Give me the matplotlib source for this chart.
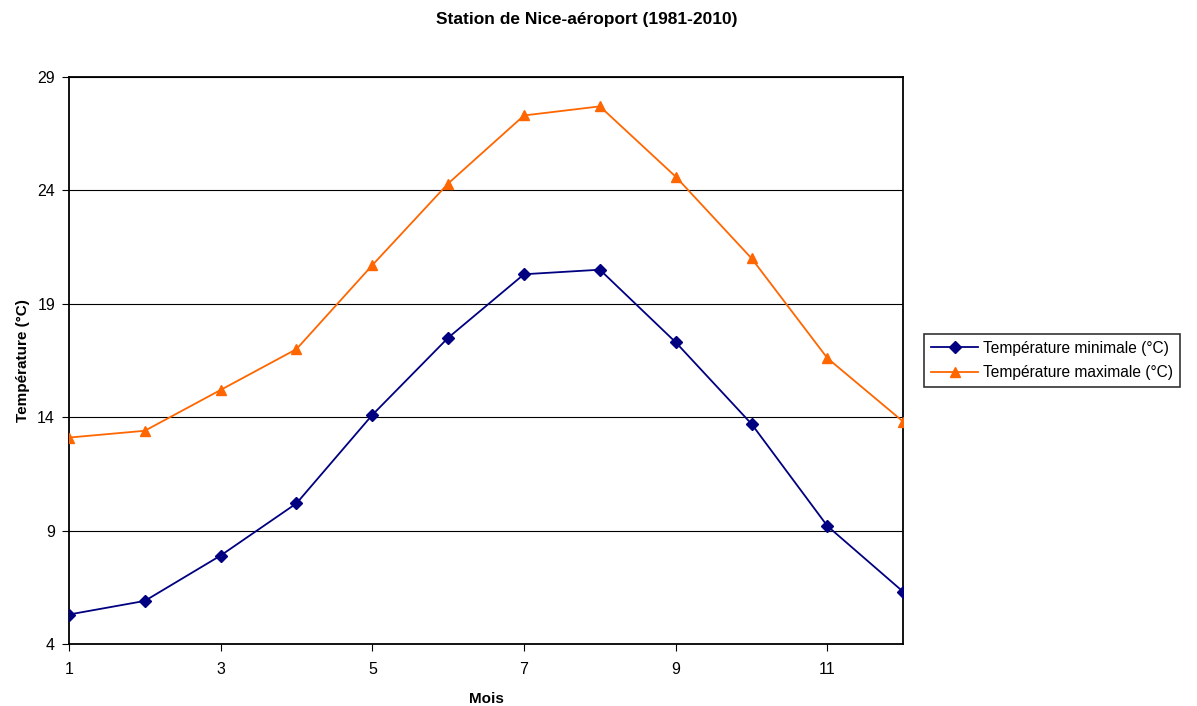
import matplotlib
matplotlib.use("Agg")
import matplotlib.pyplot as plt

plt.rcParams['font.family'] = ['Liberation Sans', 'DejaVu Sans']

# monthly normals, Nice airport 1981-2010
months = [1, 2, 3, 4, 5, 6, 7, 8, 9, 10, 11, 12]
t_min = [5.3, 5.9, 7.9, 10.2, 14.1, 17.5, 20.3, 20.5, 17.3, 13.7, 9.2, 6.3]
t_max = [13.1, 13.4, 15.2, 17.0, 20.7, 24.3, 27.3, 27.7, 24.6, 21.0, 16.6, 13.8]
y_ticks = [4, 9, 14, 19, 24, 29]
x_ticks = [1, 3, 5, 7, 9, 11]

fig = plt.figure(figsize=(11.97, 7.06), dpi=100)
ax = fig.add_axes([0.0576, 0.0878, 0.697, 0.8033])

# gridlines first so the data sits on top
for y in y_ticks[1:]:
    ax.axhline(y, color="black", lw=0.8, zorder=1)

ax.plot(months, t_min, color="#000080", marker="D", markersize=6, lw=1.3,
        label="Température minimale (°C)", zorder=3)
ax.plot(months, t_max, color="#ff6600", marker="^", markersize=7, lw=1.3,
        label="Température maximale (°C)", zorder=3)

ax.set_xlim(1, 12)
ax.set_ylim(4, 29)
ax.set_xticks(x_ticks)
ax.set_yticks(y_ticks)
ax.tick_params(labelsize=11.5, direction="out", length=5)
ax.tick_params(axis="y", pad=5)
ax.tick_params(axis="x", pad=8)
for s in ax.spines.values():
    s.set_linewidth(1.3)

ax.set_xlabel("Mois", fontsize=11, fontweight="bold", labelpad=11)
ax.set_ylabel("Température (°C)", fontsize=11, fontweight="bold", labelpad=5)
fig.suptitle("Station de Nice-aéroport (1981-2010)", fontsize=12.5,
             fontweight="bold", x=0.49, y=0.983)

leg = ax.legend(loc="center left", bbox_to_anchor=(1.016, 0.5), fontsize=11.2,
                frameon=True, fancybox=False, edgecolor="black",
                handlelength=3, borderpad=0.45, labelspacing=0.6,
                handletextpad=0.3)
leg.get_frame().set_linewidth(1.2)

fig.savefig("out.png", dpi=100)
